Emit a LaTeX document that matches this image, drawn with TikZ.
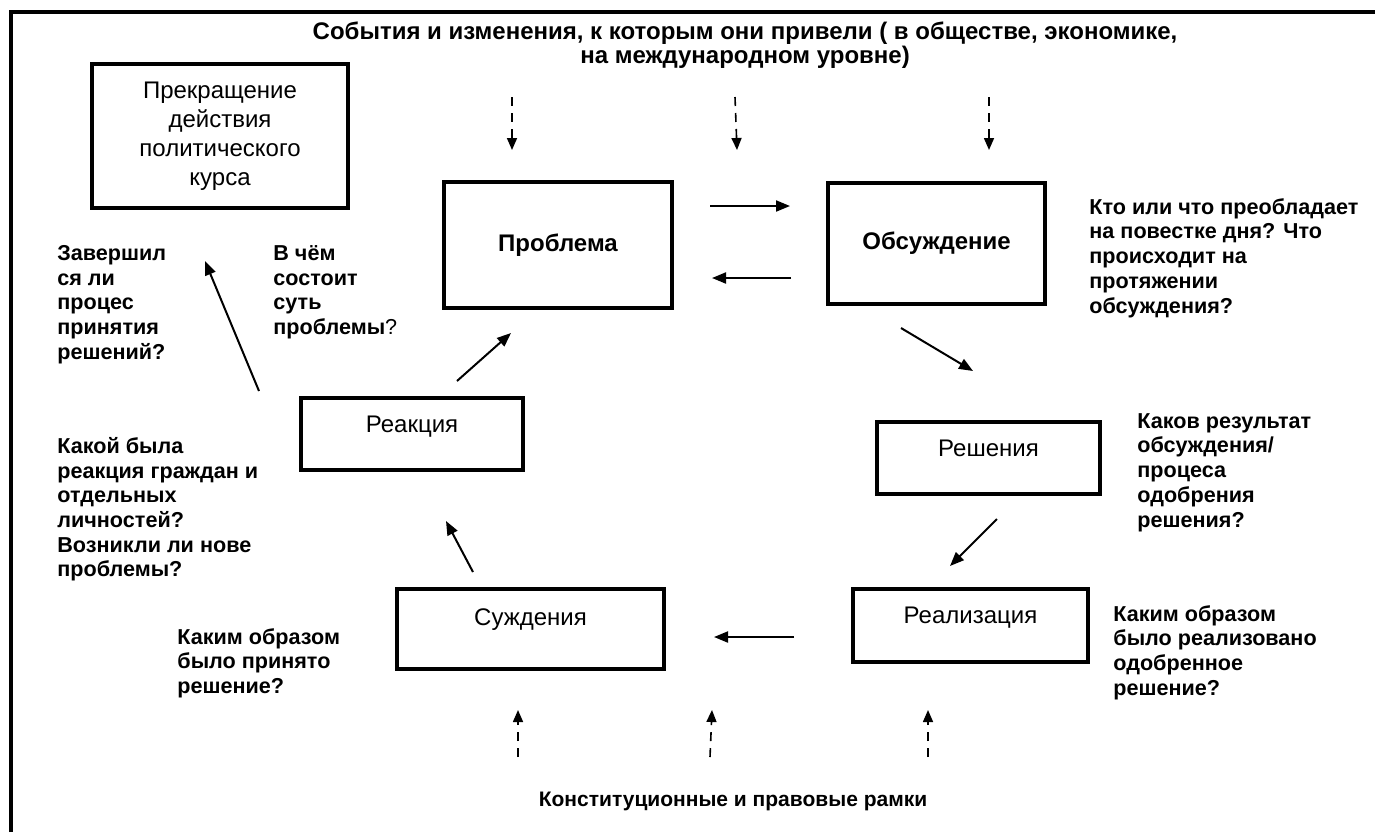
\documentclass[tikz,border=0pt]{standalone}
\usepackage{fontspec}
\setmainfont{Liberation Sans}
\usetikzlibrary{arrows.meta, calc}

\begin{document}
\begin{tikzpicture}[
        x=0.5pt, y=-0.5pt,
        block/.style={rectangle, draw=black, line width=2pt, align=center, inner sep=0pt, font=\fontsize{12}{14}\selectfont},
        lowblock/.style={block, text depth=10pt},
        question/.style={anchor=north west, inner sep=0pt, align=left, font=\bfseries\fontsize{10.8}{12.35}\selectfont},
        heading/.style={inner sep=0pt, align=center, font=\bfseries\fontsize{12}{12}\selectfont},
        line/.style={draw, line width=1pt, -{Triangle[length=7pt, width=5.5pt]}},
        dashline/.style={draw, line width=0.8pt, dash pattern=on 4.5pt off 3.5pt, -{Triangle[length=6pt, width=5pt]}}
    ]
        \useasboundingbox (0,0) rectangle (1375,832);
        % Frame (only top and left edges are visible)
        \draw [line width=2pt] (11,832) -- (11,12) -- (1375,12);

        % Outer context
        \node [heading, anchor=north] (events) at (745,21) {События и изменения, к которым они привели ( в обществе, экономике,\\на международном уровне)};
        \node [heading, font=\bfseries\fontsize{10.5}{12}\selectfont] (law) at (733,801) {Конституционные и правовые рамки};

        % Cycle blocks
        \node [block, font=\fontsize{12}{14.5}\selectfont, minimum width=128pt, minimum height=72pt] (stop) at (220,136) {Прекращение\\действия\\политического\\курса};
        \node [block, font=\bfseries\fontsize{12}{14}\selectfont, minimum width=114pt, minimum height=63pt] (problem) at (558,245) {Проблема};
        \node [block, font=\bfseries\fontsize{12}{14}\selectfont, minimum width=108.5pt, minimum height=60.5pt] (discuss) at (936.5,243.5) {Обсуждение};
        \node [lowblock, minimum width=111.5pt, minimum height=36pt] (decision) at (988.5,458) {Решения};
        \node [lowblock, minimum width=117.5pt, minimum height=36.5pt] (impl) at (970.5,625.5) {Реализация};
        \node [lowblock, text depth=12pt, minimum width=133.5pt, minimum height=40pt] (judge) at (530.5,629) {Суждения};
        \node [lowblock, minimum width=111pt, minimum height=36pt] (react) at (412,434) {Реакция};

        % Questions
        \node [question] (qend) at (57,245) {Завершил\\ся ли\\процес\\принятия\\решений?};
        \node [question] (qproblem) at (273,245) {В чём\\состоит\\суть\\проблемы{\mdseries ?}};
        \node [question] (qreact) at (57,437) {Какой была\\реакция граждан и\\отдельных\\личностей?\\Возникли ли нове\\проблемы?};
        \node [question] (qjudge) at (177,628) {Каким образом\\было принято\\решение?};
        \node [question] (qdiscuss) at (1089,198) {Кто или что преобладает\\на повестке дня? Что\\происходит на\\протяжении\\обсуждения?};
        \node [question] (qdecision) at (1137,413) {Каков результат\\обсуждения/\\процеса\\одобрения\\решения?};
        \node [question] (qimpl) at (1113,605) {Каким образом\\было реализовано\\одобренное\\решение?};

        % Cycle arrows
        \draw [line] ([shift={(36,-39)}]problem.east) -- ([shift={(-36,-37.5)}]discuss.west);
        \draw [line] ([shift={(-35,34.5)}]discuss.west) -- ([shift={(38,33)}]problem.east);
        \draw [line] ([shift={(-35.5,22)}]discuss.south) -- ([shift={(-15.5,-49)}]decision.north);
        \draw [line] ([shift={(8.5,23)}]decision.south) -- ([shift={(-20.5,-21)}]impl.north);
        \draw [line] ([shift={(-57,11.5)}]impl.west) -- ([shift={(48,8)}]judge.east);
        \draw [line] ([shift={(-57.5,-15)}]judge.north) -- ([shift={(34,49)}]react.south);
        \draw [line] ([shift={(45,-15)}]react.north) -- ([shift={(-47,23)}]problem.south);
        \draw [line] ([shift={(-40,-5)}]react.north west) -- ([shift={(-15,51)}]stop.south);

        % Influences from above
        \draw [dashline] ([shift={(-233,76)}]events.north) -- ([shift={(-46,-30)}]problem.north);
        \draw [dashline] ([shift={(-10,76)}]events.north) -- ([shift={(63,-30)}]problem.north east);
        \draw [dashline] ([shift={(244,76)}]events.north) -- ([shift={(52.5,-31)}]discuss.north);

        % Influences from below
        \draw [dashline] ([shift={(-215,-44)}]law.center) -- ([shift={(-12.5,39)}]judge.south);
        \draw [dashline] ([shift={(-23,-44)}]law.center) -- ([shift={(46,39)}]judge.south east);
        \draw [dashline] ([shift={(195,-44)}]law.center) -- ([shift={(-42.5,46)}]impl.south);
    \end{tikzpicture}
\end{document}
